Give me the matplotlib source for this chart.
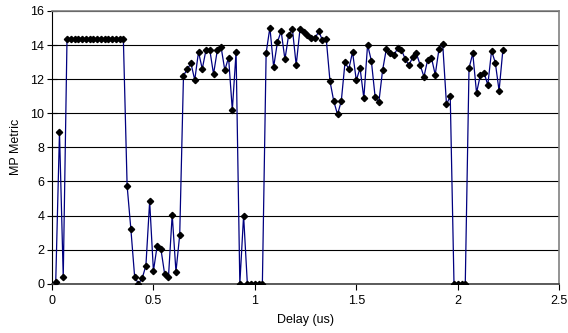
import numpy as np
import matplotlib.pyplot as plt

plt.rcParams["font.family"] = ["Liberation Sans", "DejaVu Sans"]

# delay sweep: one sample every 1/54 us, starting at the first step
DELAY_STEP_US = 1 / 54

mp_metric = [
    0.1, 8.9, 0.4,
    14.35, 14.35, 14.35, 14.35, 14.35, 14.35, 14.35, 14.35,
    14.35, 14.35, 14.35, 14.35, 14.35, 14.35, 14.35, 14.35,
    5.75, 3.2, 0.41, 0.0, 0.31, 1.06, 4.83, 0.74, 2.23, 2.03,
    0.55, 0.37, 4.05, 0.70, 2.87,
    12.2, 12.6, 12.92, 11.95, 13.6, 12.6, 13.72, 13.72, 12.3, 13.69,
    13.9, 12.53, 13.27, 10.19, 13.59,
    0.0, 4.0, 0.0, 0.0, 0.0, 0.0, 0.0,
    13.53, 15.03, 12.71, 14.17, 14.82, 13.16, 14.6, 14.92, 12.83, 14.92,
    14.78, 14.6, 14.39, 14.39, 14.8, 14.29, 14.35, 11.87, 10.71, 9.93,
    10.71, 13.0, 12.59, 13.59, 11.93, 12.65, 10.89, 14.02, 13.08, 10.97,
    10.65, 12.53, 13.78, 13.55, 13.39, 13.82, 13.72, 13.2, 12.81, 13.29,
    13.51, 12.83, 12.14, 13.14, 13.26, 12.26, 13.76, 14.04, 10.52, 11.0,
    0.0, 0.0, 0.0, 0.0,
    12.65, 13.51, 11.2, 12.22, 12.39, 11.65, 13.67, 12.96, 11.32, 13.7,
]
delay_us = DELAY_STEP_US * np.arange(1, len(mp_metric) + 1)

x_ticks = [0, 0.5, 1, 1.5, 2, 2.5]
y_ticks = [0, 2, 4, 6, 8, 10, 12, 14, 16]

fig = plt.figure(figsize=(5.68, 3.33), dpi=100)
ax = fig.add_axes([0.0915, 0.148, 0.893, 0.819])

ax.plot(delay_us, mp_metric, color="#000080", linewidth=0.9,
        marker="D", markersize=3.2, markerfacecolor="black",
        markeredgecolor="black", zorder=3)

ax.set_xlim(0, 2.5)
ax.set_ylim(0, 16)
ax.set_xticks(x_ticks)
ax.set_xticklabels(["0", "0.5", "1", "1.5", "2", "2.5"])
ax.set_yticks(y_ticks)

ax.yaxis.grid(True, color="black", linewidth=0.8)
ax.set_axisbelow(True)

for side in ("top", "right"):
    ax.spines[side].set_color("#808080")
    ax.spines[side].set_linewidth(1.2)
ax.spines["left"].set_color("black")
ax.spines["bottom"].set_color("#404040")
ax.spines["bottom"].set_linewidth(1.2)

ax.tick_params(axis="y", direction="inout", length=7, width=0.8, labelsize=9, pad=2)
ax.tick_params(axis="x", direction="out", length=4, width=0.8, labelsize=9, pad=4)

ax.set_xlabel("Delay (us)", fontsize=9, labelpad=5)
ax.set_ylabel("MP Metric", fontsize=9, labelpad=6)

fig.savefig("out.png", dpi=100)
